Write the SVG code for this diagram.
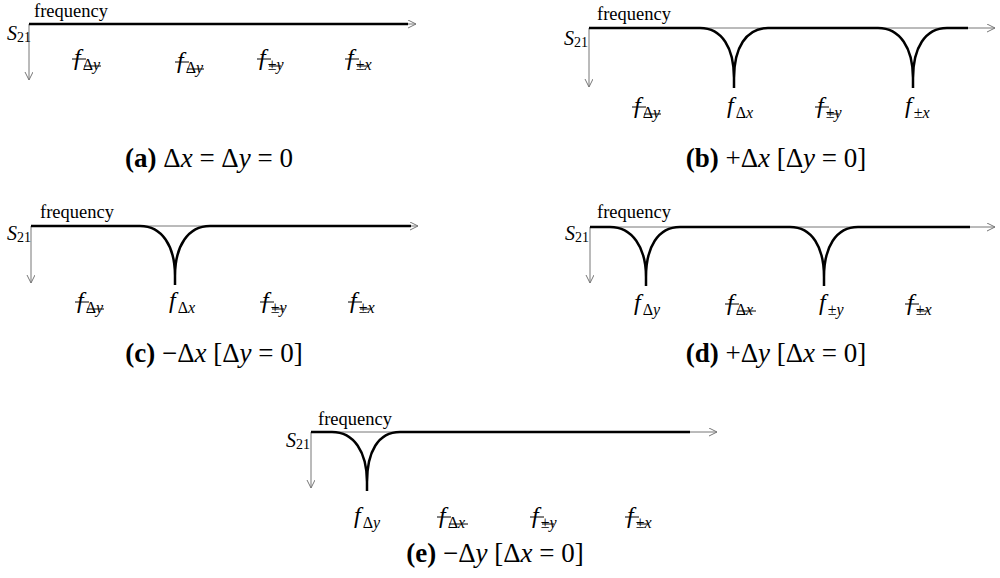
<svg xmlns="http://www.w3.org/2000/svg" width="1000" height="578" viewBox="0 0 1000 578" font-family="'Liberation Serif', 'Times New Roman', serif">
<style>
text{font-family:"Liberation Serif","Times New Roman",serif;fill:#000}
.freq{font-size:18.5px}
.s{font-size:20px;font-style:italic}
.s21{font-size:14px;font-style:normal}
.lab{font-size:24px}
.it{font-style:italic}
.sub{font-size:16px}
.title{font-size:27px;text-anchor:middle}
.b{font-weight:bold}
.axis{stroke:#777;stroke-width:1;fill:none}
.curve{stroke:#000;stroke-width:2.5;fill:none}
.strike{stroke:#000;stroke-width:1}
</style>
<defs>
<marker id="arr" markerWidth="10" markerHeight="10" refX="8" refY="4" orient="auto" markerUnits="userSpaceOnUse">
<path d="M0,0 L8,4 L0,8" fill="none" stroke="#777" stroke-width="1"/>
</marker>
</defs>

<g id="connectors">
<path class="axis" d="M29,24 H416" marker-end="url(#arr)"/>
<path class="axis" d="M29,24 V80" marker-end="url(#arr)"/>
<path class="curve" d="M29,24 H408"/>
<path class="axis" d="M589,28 H995" marker-end="url(#arr)"/>
<path class="axis" d="M589,28 V87" marker-end="url(#arr)"/>
<path class="curve" d="M589,28 H700 C722,28 734,48 734,78 V88 M734,78 C734,48 746,28 768,28 H878 C900,28 913,48 913,78 V88 M913,78 C913,48 925,28 947,28 H968"/>
<path class="axis" d="M31,226 H418" marker-end="url(#arr)"/>
<path class="axis" d="M31,226 V283" marker-end="url(#arr)"/>
<path class="curve" d="M31,226 H140 C162,226 175,246 175,276 V285 M175,276 C175,246 188,226 210,226 H411"/>
<path class="axis" d="M590,227 H995" marker-end="url(#arr)"/>
<path class="axis" d="M590,227 V283" marker-end="url(#arr)"/>
<path class="curve" d="M590,227 H610 C632,227 646,247 646,277 V286 M646,277 C646,247 658,227 680,227 H790 C812,227 824,247 824,277 V286 M824,277 C824,247 836,227 858,227 H970"/>
<path class="axis" d="M311,432 H717" marker-end="url(#arr)"/>
<path class="axis" d="M311,432 V488" marker-end="url(#arr)"/>
<path class="curve" d="M311,432 H332 C354,432 367,452 367,482 V491 M367,482 C367,452 378,432 400,432 H690"/>
</g>

<g id="panel-a">
<text class="freq" x="34" y="17">frequency</text>
<text class="s" x="7" y="40">S<tspan class="s21" dy="2">21</tspan></text>
<g id="a-l1"><text class="lab" x="74" y="65"><tspan class="it">f</tspan><tspan class="sub" dx="2" dy="5">Δ</tspan><tspan class="sub it">y</tspan></text><line class="strike" x1="72" y1="59" x2="86" y2="59"/><line class="strike" x1="84" y1="66" x2="101" y2="66"/></g>
<g id="a-l2"><text class="lab" x="177" y="68"><tspan class="it">f</tspan><tspan class="sub" dx="2" dy="5">Δ</tspan><tspan class="sub it">y</tspan></text><line class="strike" x1="175" y1="62" x2="189" y2="62"/><line class="strike" x1="187" y1="69" x2="204" y2="69"/></g>
<g id="a-l3"><text class="lab" x="259" y="65"><tspan class="it">f</tspan><tspan class="sub" dx="2" dy="5">±</tspan><tspan class="sub it">y</tspan></text><line class="strike" x1="257" y1="59" x2="271" y2="59"/><line class="strike" x1="269" y1="66" x2="281" y2="66"/></g>
<g id="a-l4"><text class="lab" x="347" y="65"><tspan class="it">f</tspan><tspan class="sub" dx="2" dy="5">±</tspan><tspan class="sub it">x</tspan></text><line class="strike" x1="345" y1="59" x2="359" y2="59"/><line class="strike" x1="357" y1="66" x2="369" y2="66"/></g>
<text class="title" x="209" y="167"><tspan class="b">(a)</tspan> Δ<tspan class="it">x</tspan> = Δ<tspan class="it">y</tspan> = 0</text>
</g>

<g id="panel-b">
<text class="freq" x="597" y="20">frequency</text>
<text class="s" x="564" y="45">S<tspan class="s21" dy="2">21</tspan></text>
<g id="b-l1"><text class="lab" x="634" y="113"><tspan class="it">f</tspan><tspan class="sub" dx="2" dy="5">Δ</tspan><tspan class="sub it">y</tspan></text><line class="strike" x1="632" y1="107" x2="646" y2="107"/><line class="strike" x1="644" y1="114" x2="661" y2="114"/></g>
<g id="b-l2"><text class="lab" x="727" y="113"><tspan class="it">f</tspan><tspan class="sub" dx="2" dy="5">Δ</tspan><tspan class="sub it">x</tspan></text></g>
<g id="b-l3"><text class="lab" x="817" y="113"><tspan class="it">f</tspan><tspan class="sub" dx="2" dy="5">±</tspan><tspan class="sub it">y</tspan></text><line class="strike" x1="815" y1="107" x2="829" y2="107"/><line class="strike" x1="827" y1="114" x2="839" y2="114"/></g>
<g id="b-l4"><text class="lab" x="905" y="113"><tspan class="it">f</tspan><tspan class="sub" dx="2" dy="5">±</tspan><tspan class="sub it">x</tspan></text></g>
<text class="title" x="776" y="167"><tspan class="b">(b)</tspan> +Δ<tspan class="it">x</tspan> [Δ<tspan class="it">y</tspan> = 0]</text>
</g>

<g id="panel-c">
<text class="freq" x="40" y="218">frequency</text>
<text class="s" x="7" y="240">S<tspan class="s21" dy="2">21</tspan></text>
<g id="c-l1"><text class="lab" x="77" y="308"><tspan class="it">f</tspan><tspan class="sub" dx="2" dy="5">Δ</tspan><tspan class="sub it">y</tspan></text><line class="strike" x1="75" y1="302" x2="89" y2="302"/><line class="strike" x1="87" y1="309" x2="104" y2="309"/></g>
<g id="c-l2"><text class="lab" x="169" y="308"><tspan class="it">f</tspan><tspan class="sub" dx="2" dy="5">Δ</tspan><tspan class="sub it">x</tspan></text></g>
<g id="c-l3"><text class="lab" x="262" y="308"><tspan class="it">f</tspan><tspan class="sub" dx="2" dy="5">±</tspan><tspan class="sub it">y</tspan></text><line class="strike" x1="260" y1="302" x2="274" y2="302"/><line class="strike" x1="272" y1="309" x2="284" y2="309"/></g>
<g id="c-l4"><text class="lab" x="350" y="308"><tspan class="it">f</tspan><tspan class="sub" dx="2" dy="5">±</tspan><tspan class="sub it">x</tspan></text><line class="strike" x1="348" y1="302" x2="362" y2="302"/><line class="strike" x1="360" y1="309" x2="372" y2="309"/></g>
<text class="title" x="214" y="362"><tspan class="b">(c)</tspan> −Δ<tspan class="it">x</tspan> [Δ<tspan class="it">y</tspan> = 0]</text>
</g>

<g id="panel-d">
<text class="freq" x="597" y="218">frequency</text>
<text class="s" x="565" y="240">S<tspan class="s21" dy="2">21</tspan></text>
<g id="d-l1"><text class="lab" x="634" y="310"><tspan class="it">f</tspan><tspan class="sub" dx="2" dy="5">Δ</tspan><tspan class="sub it">y</tspan></text></g>
<g id="d-l2"><text class="lab" x="727" y="310"><tspan class="it">f</tspan><tspan class="sub" dx="2" dy="5">Δ</tspan><tspan class="sub it">x</tspan></text><line class="strike" x1="725" y1="304" x2="739" y2="304"/><line class="strike" x1="737" y1="311" x2="756" y2="311"/></g>
<g id="d-l3"><text class="lab" x="819" y="310"><tspan class="it">f</tspan><tspan class="sub" dx="2" dy="5">±</tspan><tspan class="sub it">y</tspan></text></g>
<g id="d-l4"><text class="lab" x="907" y="310"><tspan class="it">f</tspan><tspan class="sub" dx="2" dy="5">±</tspan><tspan class="sub it">x</tspan></text><line class="strike" x1="905" y1="304" x2="919" y2="304"/><line class="strike" x1="917" y1="311" x2="929" y2="311"/></g>
<text class="title" x="776" y="362"><tspan class="b">(d)</tspan> +Δ<tspan class="it">y</tspan> [Δ<tspan class="it">x</tspan> = 0]</text>
</g>

<g id="panel-e">
<text class="freq" x="318" y="425">frequency</text>
<text class="s" x="286" y="447">S<tspan class="s21" dy="2">21</tspan></text>
<g id="e-l1"><text class="lab" x="354" y="523"><tspan class="it">f</tspan><tspan class="sub" dx="2" dy="5">Δ</tspan><tspan class="sub it">y</tspan></text></g>
<g id="e-l2"><text class="lab" x="439" y="523"><tspan class="it">f</tspan><tspan class="sub" dx="2" dy="5">Δ</tspan><tspan class="sub it">x</tspan></text><line class="strike" x1="437" y1="517" x2="451" y2="517"/><line class="strike" x1="449" y1="524" x2="468" y2="524"/></g>
<g id="e-l3"><text class="lab" x="532" y="523"><tspan class="it">f</tspan><tspan class="sub" dx="2" dy="5">±</tspan><tspan class="sub it">y</tspan></text><line class="strike" x1="530" y1="517" x2="544" y2="517"/><line class="strike" x1="542" y1="524" x2="554" y2="524"/></g>
<g id="e-l4"><text class="lab" x="627" y="523"><tspan class="it">f</tspan><tspan class="sub" dx="2" dy="5">±</tspan><tspan class="sub it">x</tspan></text><line class="strike" x1="625" y1="517" x2="639" y2="517"/><line class="strike" x1="637" y1="524" x2="649" y2="524"/></g>
<text class="title" x="495" y="562"><tspan class="b">(e)</tspan> −Δ<tspan class="it">y</tspan> [Δ<tspan class="it">x</tspan> = 0]</text>
</g>
</svg>
